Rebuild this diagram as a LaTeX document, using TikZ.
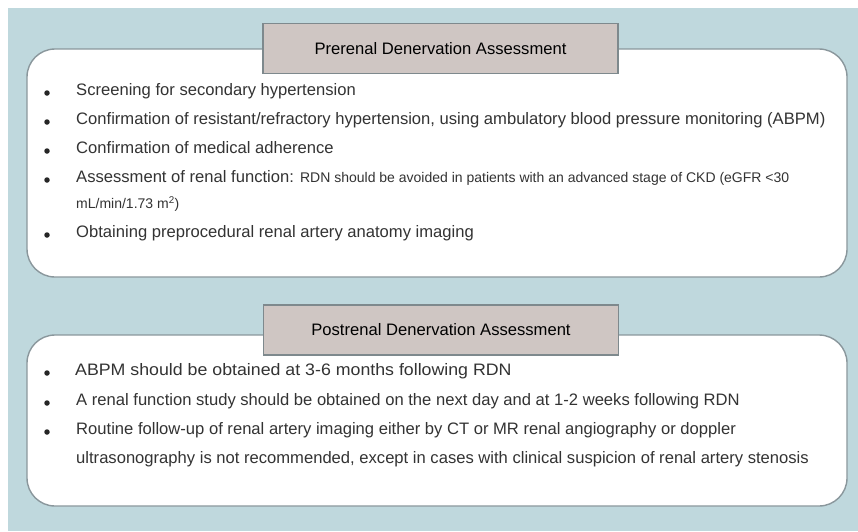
\documentclass[tikz,border=0pt]{standalone}
\usepackage{fontspec}
\usepackage{graphicx}
\setmainfont{Liberation Sans}
\definecolor{bgblue}{HTML}{BFD8DD}
\definecolor{hdrfill}{HTML}{CFC6C3}
\definecolor{hdrline}{HTML}{7E898D}
\definecolor{panelline}{HTML}{8A979C}
\definecolor{txt}{HTML}{333333}
\newcommand{\smallfnt}{\fontsize{14}{16}\selectfont}
\begin{document}
\begin{tikzpicture}[x=1pt,y=-1pt,
  panel/.style={draw=panelline, line width=1.4pt, fill=white, rounded corners=28pt, inner sep=0},
  header/.style={draw=hdrline, line width=1.2pt, fill=hdrfill, inner sep=0, minimum width=355pt, minimum height=50pt, text=black, font=\fontsize{16.6}{19}\selectfont},
  itemtext/.style={anchor=mid west, inner sep=0, text=txt, font=\fontsize{16.6}{19}\selectfont},
  smalltext/.style={font=\smallfnt},
  dot/.style={circle, fill=black!85, inner sep=0, minimum size=5.5pt}]
\useasboundingbox (0,0) rectangle (858,531);
\fill[white] (0,0) rectangle (858,531);
\fill[bgblue] (8,8) rectangle (858,531);
% top panel
\node[panel, minimum width=820pt, minimum height=228pt] (prebox) at (437,163) {};
\node[header] (prehdr) at (440.5,48.5) {Prerenal Denervation Assessment};
\node[dot] (d1) at (47,93) {};
\node[itemtext] (t1) at (76,93) {Screening for secondary hypertension};
\node[dot] (d2) at (47,122) {};
\node[itemtext] (t2) at (76,122) {Confirmation of resistant/refractory hypertension, using ambulatory blood pressure monitoring (ABPM)};
\node[dot] (d3) at (47,151) {};
\node[itemtext] (t3) at (76,151) {Confirmation of medical adherence};
\node[dot] (d4) at (47,180) {};
\node[itemtext] (t4) at (76,180) {Assessment of renal function: {\smallfnt RDN should be avoided in patients with an advanced stage of CKD (eGFR <30}};
\node[itemtext, smalltext] (t4b) at (76,206) {mL/min/1.73 m\textsuperscript{2})};
\node[dot] (d5) at (47,235) {};
\node[itemtext] (t5) at (76,235) {Obtaining preprocedural renal artery anatomy imaging};
% bottom panel
\node[panel, minimum width=820pt, minimum height=171pt] (postbox) at (437,420.5) {};
\node[header] (posthdr) at (441,330) {Postrenal Denervation Assessment};
\node[dot] (e1) at (47,373) {};
\node[itemtext] (u1) at (75,373) {\scalebox{1.07}[1]{ABPM should be obtained at 3-6 months following RDN}};
\node[dot] (e2) at (47,403) {};
\node[itemtext] (u2) at (76,403) {A renal function study should be obtained on the next day and at 1-2 weeks following RDN};
\node[dot] (e3) at (47,432) {};
\node[itemtext] (u3) at (76,432) {Routine follow-up of renal artery imaging either by CT or MR renal angiography or doppler};
\node[itemtext] (u3b) at (76,461) {ultrasonography is not recommended, except in cases with clinical suspicion of renal artery stenosis};
\end{tikzpicture}
\end{document}
